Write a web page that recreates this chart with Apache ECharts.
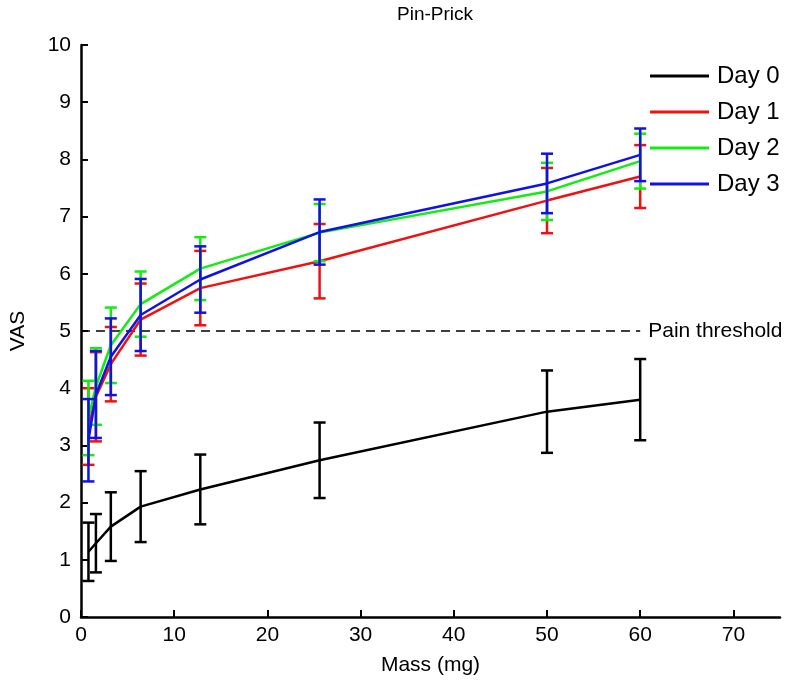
<!DOCTYPE html>
<html>
<head>
<meta charset="utf-8">
<script src="https://cdn.jsdelivr.net/npm/echarts@6/dist/echarts.min.js"></script>
<style>html,body{margin:0;padding:0;background:#fff;}#c{width:800px;height:689px;}</style>
</head>
<body>
<div id="c"></div>
<script>
const mass = [0.8, 1.6, 3.2, 6.4, 12.8, 25.6, 50, 60];
const day0 = [1.14, 1.29, 1.58, 1.93, 2.23, 2.74, 3.59, 3.80];
const err0 = [0.51, 0.51, 0.60, 0.62, 0.61, 0.66, 0.72, 0.71];
const day1 = [3.33, 3.85, 4.42, 5.20, 5.75, 6.22, 7.28, 7.70];
const err1 = [0.67, 0.78, 0.65, 0.63, 0.65, 0.65, 0.57, 0.55];
const day2 = [3.48, 4.03, 4.75, 5.47, 6.09, 6.72, 7.44, 7.97];
const err2 = [0.65, 0.67, 0.66, 0.57, 0.55, 0.50, 0.50, 0.48];
const day3 = [3.09, 3.89, 4.55, 5.28, 5.90, 6.73, 7.58, 8.08];
const err3 = [0.72, 0.76, 0.67, 0.63, 0.58, 0.57, 0.52, 0.46];
const xTicks = [0, 10, 20, 30, 40, 50, 60, 70];
const painThreshold = 5;

const groups = [
  {name: 'Day 0', mean: day0, err: err0, color: '#000000'},
  {name: 'Day 1', mean: day1, err: err1, color: '#f01010'},
  {name: 'Day 2', mean: day2, err: err2, color: '#10ee10'},
  {name: 'Day 3', mean: day3, err: err3, color: '#1010e8'}
];

const font = 'Liberation Sans, Arial, sans-serif';
const series = [];
series.push({
  type: 'line', name: 'threshold', data: [[0, painThreshold], [60, painThreshold]],
  symbol: 'none', silent: true, z: 1,
  lineStyle: {color: '#000', width: 1.5, type: [9, 6]},
  endLabel: {show: true, formatter: 'Pain threshold', color: '#000', fontSize: 21, fontFamily: font, distance: 8}
});
groups.forEach((g, gi) => {
  series.push({
    type: 'line', name: g.name, data: mass.map((m, i) => [m, g.mean[i]]),
    symbol: 'none', showSymbol: false, z: 2 + gi * 2,
    lineStyle: {color: g.color, width: 2.5}, itemStyle: {color: g.color}
  });
  series.push({
    type: 'custom', name: g.name + ' err', z: 3 + gi * 2,
    data: mass.map((m, i) => [m, g.mean[i] - g.err[i], g.mean[i] + g.err[i]]),
    encode: {x: 0, y: [1, 2]},
    renderItem: function (params, api) {
      const x = api.value(0), lo = api.value(1), hi = api.value(2);
      const p1 = api.coord([x, lo]), p2 = api.coord([x, hi]);
      const w = 6;
      const st = {stroke: g.color, lineWidth: 2.5};
      return {type: 'group', children: [
        {type: 'line', shape: {x1: p1[0], y1: p1[1], x2: p2[0], y2: p2[1]}, style: st},
        {type: 'line', shape: {x1: p1[0] - w, y1: p1[1], x2: p1[0] + w, y2: p1[1]}, style: st},
        {type: 'line', shape: {x1: p2[0] - w, y1: p2[1], x2: p2[0] + w, y2: p2[1]}, style: st}
      ]};
    }
  });
});

const chart = echarts.init(document.getElementById('c'));
chart.setOption({
  animation: false,
  backgroundColor: '#fff',
  title: {text: 'Pin-Prick', left: 430, top: 0, textAlign: 'center',
    textStyle: {fontSize: 19, fontWeight: 'normal', color: '#000', fontFamily: font}},
  legend: {
    data: groups.map(g => g.name), orient: 'vertical', left: 650, top: 64, padding: 0,
    icon: 'rect', itemWidth: 59, itemHeight: 3, itemGap: 12,
    textStyle: {fontSize: 24, lineHeight: 24, color: '#000', fontFamily: font, padding: [0, 0, 0, 3]}
  },
  grid: {left: 80, right: 20, top: 45, bottom: 72},
  xAxis: {
    type: 'value', min: 0, max: 75, interval: 10,
    name: 'Mass (mg)', nameLocation: 'middle', nameGap: 38,
    nameTextStyle: {fontSize: 21, color: '#000', fontFamily: font},
    axisLine: {lineStyle: {color: '#000', width: 2.5}},
    axisTick: {inside: true, length: 7, lineStyle: {color: '#000', width: 2}, customValues: xTicks},
    axisLabel: {fontSize: 21, color: '#000', fontFamily: font, margin: 8, customValues: xTicks},
    splitLine: {show: false}
  },
  yAxis: {
    type: 'value', min: 0, max: 10, interval: 1,
    name: 'VAS', nameLocation: 'middle', nameGap: 52,
    nameTextStyle: {fontSize: 21, color: '#000', fontFamily: font},
    axisLine: {lineStyle: {color: '#000', width: 2.5}},
    axisTick: {inside: true, length: 7, lineStyle: {color: '#000', width: 2}},
    axisLabel: {fontSize: 21, color: '#000', fontFamily: font, margin: 10},
    splitLine: {show: false}
  },
  series: series
});
</script>
</body>
</html>
